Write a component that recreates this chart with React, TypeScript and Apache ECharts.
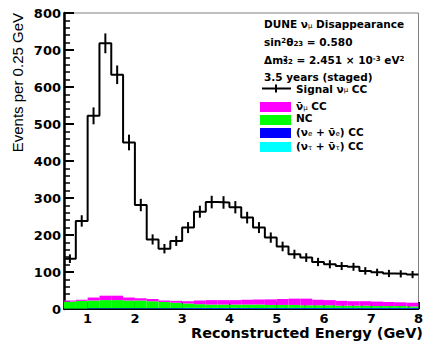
import React, { useEffect, useRef } from "react";
import * as echarts from "echarts";

// Bin low edges (GeV), bin width 0.25 GeV
const binLow = [0.5, 0.75, 1, 1.25, 1.5, 1.75, 2, 2.25, 2.5, 2.75, 3, 3.25, 3.5, 3.75, 4, 4.25, 4.5, 4.75, 5, 5.25, 5.5, 5.75, 6, 6.25, 6.5, 6.75, 7, 7.25, 7.5, 7.75];
const binWidth = 0.25;

const signalNumuCC = [136, 238, 522, 718, 633, 450, 281, 188, 163, 184, 220, 263, 289, 288, 275, 247, 220, 193, 169, 148, 139, 127, 121, 116, 114, 103, 99, 96, 95, 93];
const numubarCC = [3, 3, 8, 12, 12, 8, 6, 6, 4, 5, 6, 10, 12, 12, 12, 13, 14, 15, 16, 17, 18, 15, 14, 13, 12, 12, 12, 11, 10, 10];
const ncEvents = [19, 21, 21, 22, 22, 21, 21, 19, 17, 15, 12, 10, 9, 9, 9, 9, 9, 8, 8, 8, 7, 7, 7, 6, 6, 6, 5, 5, 5, 4];
const nueCC = [1, 1, 2, 2, 2, 2, 2, 2, 2, 2, 2, 2, 2, 2, 2, 2, 2, 2, 2, 2, 2, 2, 2, 2, 2, 2, 2, 2, 2, 2];
const nutauCC = [0, 0, 0, 0, 0, 0, 0, 0, 0, 0, 1, 1, 1, 1, 1, 1, 1, 1, 1, 1, 1, 1, 1, 1, 1, 1, 1, 1, 1, 1];

const xTickLabels = [1, 2, 3, 4, 5, 6, 7, 8];
const xMinorTicks = [0.6, 0.8, 1.2, 1.4, 1.6, 1.8, 2.2, 2.4, 2.6, 2.8, 3.2, 3.4, 3.6, 3.8, 4.2, 4.4, 4.6, 4.8, 5.2, 5.4, 5.6, 5.8, 6.2, 6.4, 6.6, 6.8, 7.2, 7.4, 7.6, 7.8];

const FONT = "DejaVu Sans";

export default function App() {
  const ref = useRef<HTMLDivElement>(null);
  useEffect(() => {
    if (!ref.current) return;
    const chart = echarts.init(ref.current, null, { renderer: "svg" });

    // stack bottom -> top
    const stackDefs = [
      { name: "nue", vals: nueCC, color: "#0000ff" },
      { name: "nutau", vals: nutauCC, color: "#00ffff" },
      { name: "nc", vals: ncEvents, color: "#00ff00" },
      { name: "numubar", vals: numubarCC, color: "#ff00ff" },
    ];
    const base = binLow.map(() => 0);
    const stackSeries = stackDefs.map((d) => {
      const data = binLow.map((lo, i) => {
        const b = base[i];
        const t = b + d.vals[i];
        base[i] = t;
        return [lo, lo + binWidth, b, t];
      });
      return {
        type: "custom",
        name: d.name,
        xAxisIndex: 0,
        yAxisIndex: 0,
        encode: { x: [0, 1], y: [2, 3] },
        data,
        renderItem: (params: any, api: any) => {
          const p0 = api.coord([api.value(0), api.value(3)]);
          const p1 = api.coord([api.value(1), api.value(2)]);
          return {
            type: "rect",
            shape: { x: p0[0], y: p0[1], width: p1[0] - p0[0], height: p1[1] - p0[1] },
            style: { fill: d.color },
          };
        },
      };
    });

    const stepData: number[][] = binLow.map((lo, i) => [lo, signalNumuCC[i]]);
    stepData.push([binLow[binLow.length - 1] + binWidth, signalNumuCC[signalNumuCC.length - 1]]);

    const errData = binLow.map((lo, i) => [lo + binWidth / 2, signalNumuCC[i]]);

    const small = { fontFamily: FONT, fontSize: 7, color: "#000", lineHeight: 4 };
    const rich = {
      b: { fontFamily: FONT, fontWeight: "bold", fontSize: 10.5, color: "#000", lineHeight: 10 },
      s: { ...small, verticalAlign: "bottom" },
      p: { ...small, verticalAlign: "top", fontWeight: "bold" },
      p0: { ...small, verticalAlign: "top", fontWeight: "bold", width: 0 },
      sb: { ...small, verticalAlign: "bottom", fontWeight: "bold" },
    };
    const txt = (x: number, y: number, text: string) => ({
      type: "text",
      x,
      y,
      style: { text, rich, fill: "#000", verticalAlign: "middle", align: "left", font: `bold 10.5px ${FONT}` },
    });
    const swatch = (y: number, color: string) => ({
      type: "rect",
      shape: { x: 260, y, width: 31, height: 10 },
      style: { fill: color },
    });

    chart.setOption({
      animation: false,
      grid: { left: 64, right: 3.5, top: 13, bottom: 32, show: true, borderColor: "#808080", borderWidth: 1 },
      xAxis: [
        {
          type: "value",
          min: 0.5,
          max: 8,
          axisLine: { show: true, lineStyle: { color: "#000", width: 2 } },
          axisTick: { show: true, inside: true, length: 7, customValues: xTickLabels, lineStyle: { color: "#000", width: 2 } },
          axisLabel: { customValues: xTickLabels, fontFamily: FONT, fontWeight: "bold", fontSize: 13, lineHeight: 11, color: "#000", margin: 4 },
          splitLine: { show: false },
        },
        {
          type: "value",
          min: 0.5,
          max: 8,
          position: "bottom",
          axisLine: { show: false },
          axisTick: { show: true, inside: true, length: 4, customValues: xMinorTicks, lineStyle: { color: "#000", width: 1.5 } },
          axisLabel: { show: false },
          splitLine: { show: false },
        },
      ],
      yAxis: {
        type: "value",
        min: 0,
        max: 800,
        interval: 100,
        axisLine: { show: true, lineStyle: { color: "#000", width: 2.5 } },
        axisTick: { show: true, inside: true, length: 10, lineStyle: { color: "#000", width: 2 } },
        minorTick: { show: true, splitNumber: 5, length: 6, lineStyle: { color: "#000", width: 1.5 } },
        axisLabel: { fontFamily: FONT, fontWeight: "bold", fontSize: 13, color: "#000", margin: 3 },
        splitLine: { show: false },
      },
      series: [
        ...stackSeries,
        {
          type: "line",
          name: "signal",
          xAxisIndex: 0,
          data: stepData,
          step: "end",
          symbol: "none",
          lineStyle: { color: "#000", width: 2 },
          z: 5,
        },
        {
          type: "custom",
          name: "err",
          xAxisIndex: 0,
          data: errData,
          encode: { x: 0, y: 1 },
          z: 6,
          renderItem: (params: any, api: any) => {
            const x = api.value(0);
            const v = api.value(1);
            const e = Math.sqrt(v);
            const a = api.coord([x, v - e]);
            const b = api.coord([x, v + e]);
            return {
              type: "line",
              shape: { x1: a[0], y1: a[1], x2: b[0], y2: b[1] },
              style: { stroke: "#000", lineWidth: 2 },
            };
          },
        },
      ],
      graphic: [
        {
          type: "text",
          x: 17,
          y: 13,
          rotation: Math.PI / 2,
          style: { text: "Events per 0.25 GeV", font: "15px 'Liberation Sans'", fill: "#000", align: "right", verticalAlign: "middle" },
        },
        {
          type: "text",
          x: 423,
          y: 333,
          style: { text: "Reconstructed Energy (GeV)", font: `bold 14.5px ${FONT}`, fill: "#000", align: "right", verticalAlign: "middle" },
        },
        txt(264, 24, "{b|DUNE ν}{s|μ}{b| Disappearance}"),
        txt(264, 42, "{b|sin}{p|2}{b|θ}{sb|23}{b| = 0.580}"),
        txt(264, 60, "{b|Δm}{p0|2}{sb|32}{b| = 2.451 × 10}{p|-3}{b| eV}{p|2}"),
        txt(264, 77, "{b|3.5 years (staged)}"),
        {
          type: "line",
          shape: { x1: 262, y1: 88.5, x2: 291, y2: 88.5 },
          style: { stroke: "#000", lineWidth: 2 },
        },
        {
          type: "line",
          shape: { x1: 276, y1: 84.5, x2: 276, y2: 92.5 },
          style: { stroke: "#000", lineWidth: 2 },
        },
        txt(296, 88.5, "{b|Signal ν}{s|μ}{b| CC}"),
        swatch(102, "#ff00ff"),
        txt(296, 106, "{b|ν̄}{s|μ}{b| CC}"),
        swatch(115, "#00ff00"),
        txt(296, 118, "{b|NC}"),
        swatch(128, "#0000ff"),
        txt(296, 132, "{b|(ν}{s|e}{b| + ν̄}{s|e}{b|) CC}"),
        swatch(142, "#00ffff"),
        txt(296, 146, "{b|(ν}{s|τ}{b| + ν̄}{s|τ}{b|) CC}"),
      ],
    });
    return () => chart.dispose();
  }, []);
  return <div ref={ref} style={{ position: "absolute", left: 0, top: 0, width: 426, height: 341 }} />;
}
